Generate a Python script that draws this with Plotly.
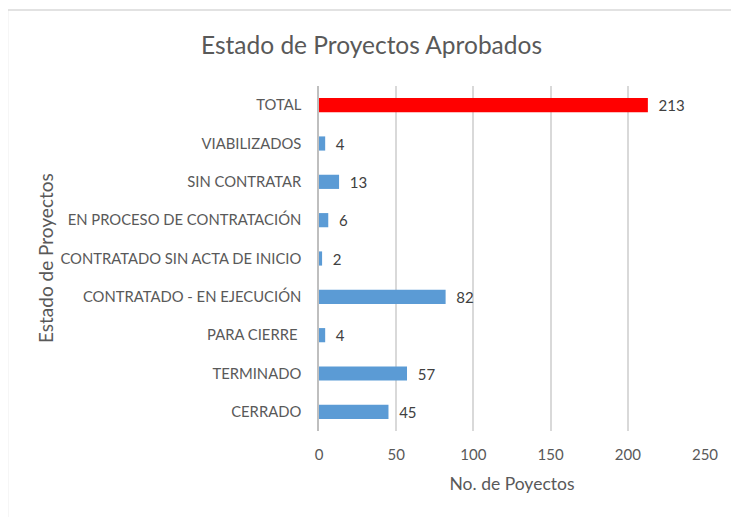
import plotly.graph_objects as go

categories = ["CERRADO", "TERMINADO", "PARA CIERRE ", "CONTRATADO - EN EJECUCIÓN",
              "CONTRATADO SIN ACTA DE INICIO", "EN PROCESO DE CONTRATACIÓN",
              "SIN CONTRATAR", "VIABILIZADOS", "TOTAL"]
values = [45, 57, 4, 82, 2, 6, 13, 4, 213]
bar_colors = ["#5b9bd5"] * 8 + ["#ff0000"]
x_ticks = [0, 50, 100, 150, 200, 250]

FONT = "Lato, 'Open Sans', sans-serif"

fig = go.Figure(go.Bar(
    y=categories, x=values, orientation="h",
    marker=dict(color=bar_colors, line=dict(width=0)),
    text=["  " + str(v) for v in values], textposition="outside",
    textfont=dict(family=FONT, size=15, color="#404040"),
    constraintext="none",
    cliponaxis=False, width=0.37,
))

OFF = 8  # page offset of the figure
W, H = 739, 517
L, R, T, B = 319 - OFF, W - (705 - OFF), 86 - OFF, H - (431 - OFF)
pw, ph = W - L - R, H - T - B
def px(x): return (x - OFF - L) / pw
def py(y): return (H - B - (y - OFF)) / ph

fig.update_layout(
    width=W, height=H,
    margin=dict(l=L, r=R, t=T, b=B),
    paper_bgcolor="white", plot_bgcolor="white",
    showlegend=False,
    title=dict(text="Estado de Proyectos Aprobados", x=0.5 * (7 + 736 - 2 * OFF) / W, xanchor="center",
               y=1 - (45 - OFF) / H, yanchor="middle",
               font=dict(family=FONT, size=24.5, color="#595959")),
    xaxis=dict(range=[0, 250], tickvals=x_ticks, showgrid=True, gridcolor="#d9d9d9", gridwidth=1.5,
               zeroline=False, showline=False, ticks="", automargin=False,
               ticklabelstandoff=13,
               tickfont=dict(family=FONT, size=15, color="#595959"),
               title=dict(text="No. de Poyectos", font=dict(family=FONT, size=17.5, color="#595959"),
                          standoff=15)),
    yaxis=dict(categoryorder="array", categoryarray=categories, showgrid=False,
               showline=True, linecolor="#bfbfbf", linewidth=1.5, ticks="", automargin=False,
               ticklabelstandoff=13,
               tickfont=dict(family=FONT, size=14.8, color="#595959")),
    annotations=[dict(text="Estado de Proyectos", textangle=-90, showarrow=False,
                      xref="paper", yref="paper", x=px(45), y=py(258),
                      xanchor="center", yanchor="middle",
                      font=dict(family=FONT, size=19, color="#595959"))],
    shapes=[dict(type="rect", xref="paper", yref="paper",
                 x0=px(7.5), x1=px(736), y0=py(540), y1=py(10),
                 line=dict(color="#d9d9d9", width=1.5), fillcolor="rgba(0,0,0,0)", layer="below")],
)

fig.write_html("out.html")
